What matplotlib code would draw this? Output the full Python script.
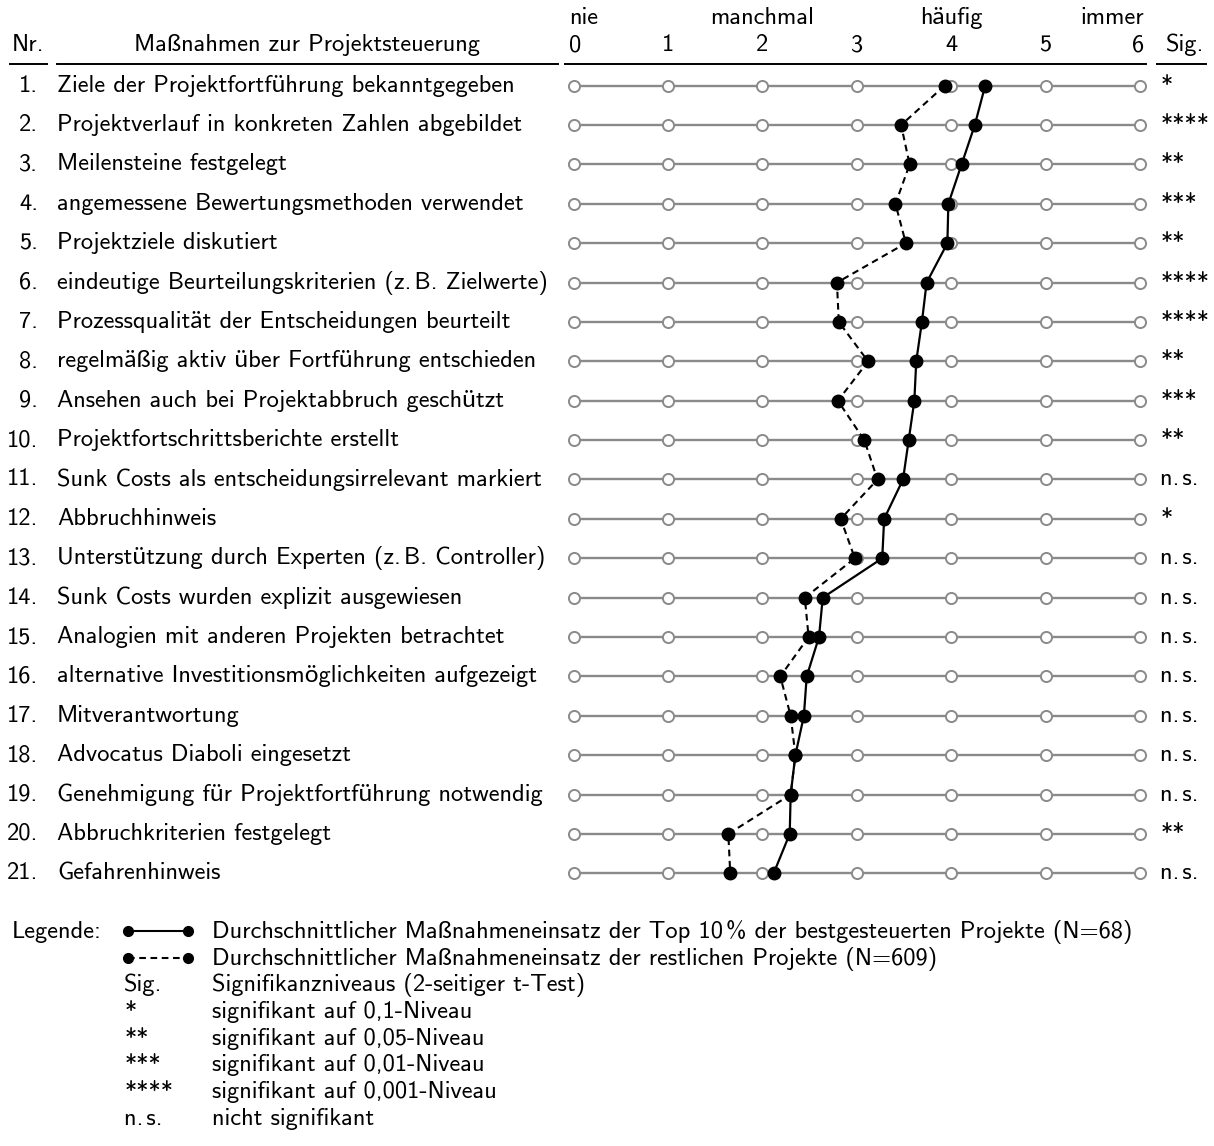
import numpy as np
import matplotlib
matplotlib.use("Agg")
from matplotlib import pyplot as plt
from matplotlib import transforms
from matplotlib.lines import Line2D

plt.rcParams['font.family'] = ['cmss10', 'Lato', 'DejaVu Sans']
plt.rcParams['axes.unicode_minus'] = False

measures = [
    "Ziele der Projektfortführung bekanntgegeben",
    "Projektverlauf in konkreten Zahlen abgebildet",
    "Meilensteine festgelegt",
    "angemessene Bewertungsmethoden verwendet",
    "Projektziele diskutiert",
    "eindeutige Beurteilungskriterien (z.\u2009B. Zielwerte)",
    "Prozessqualität der Entscheidungen beurteilt",
    "regelmäßig aktiv über Fortführung entschieden",
    "Ansehen auch bei Projektabbruch geschützt",
    "Projektfortschrittsberichte erstellt",
    "Sunk Costs als entscheidungsirrelevant markiert",
    "Abbruchhinweis",
    "Unterstützung durch Experten (z.\u2009B. Controller)",
    "Sunk Costs wurden explizit ausgewiesen",
    "Analogien mit anderen Projekten betrachtet",
    "alternative Investitionsmöglichkeiten aufgezeigt",
    "Mitverantwortung",
    "Advocatus Diaboli eingesetzt",
    "Genehmigung für Projektfortführung notwendig",
    "Abbruchkriterien festgelegt",
    "Gefahrenhinweis",
]
top10 = [4.36, 4.25, 4.11, 3.97, 3.96, 3.74, 3.69, 3.63, 3.61, 3.55, 3.49,
         3.29, 3.27, 2.64, 2.60, 2.47, 2.44, 2.35, 2.30, 2.29, 2.12]
rest = [3.93, 3.47, 3.56, 3.41, 3.52, 2.79, 2.81, 3.12, 2.80, 3.08, 3.22,
        2.83, 2.98, 2.45, 2.49, 2.19, 2.30, 2.35, 2.30, 1.64, 1.66]
sig = ["*", "****", "**", "***", "**", "****", "****", "**", "***", "**", "n.\u2009s.",
       "*", "n.\u2009s.", "n.\u2009s.", "n.\u2009s.", "n.\u2009s.", "n.\u2009s.", "n.\u2009s.",
       "n.\u2009s.", "**", "n.\u2009s."]
scale_ticks = [0, 1, 2, 3, 4, 5, 6]
scale_words = {0: "nie", 2: "manchmal", 4: "häufig", 6: "immer"}

legend_rows = [
    ("solid", "Durchschnittlicher Maßnahmeneinsatz der Top 10\u2009% der bestgesteuerten Projekte (N=68)"),
    ("dashed", "Durchschnittlicher Maßnahmeneinsatz der restlichen Projekte (N=609)"),
    ("Sig.", "Signifikanzniveaus (2-seitiger t-Test)"),
    ("*", "signifikant auf 0,1-Niveau"),
    ("**", "signifikant auf 0,05-Niveau"),
    ("***", "signifikant auf 0,01-Niveau"),
    ("****", "signifikant auf 0,001-Niveau"),
    ("n.\u2009s.", "nicht signifikant"),
]

W, H = 1214, 1146
FS = 17.6
GRAY = '#8a8a8a'

fig = plt.figure(figsize=(W / 100, H / 100), dpi=100)


def fx(px):
    return px / W


def fy(py):
    return 1 - py / H


# main dot plot area: value 0 -> px 573.5, value 6 -> px 1140
row1_y, row21_y = 85.7, 873.3
step = (row21_y - row1_y) / 20
top_px = row1_y - step / 2
bot_px = row21_y + step / 2
ax = fig.add_axes([fx(573.5), fy(bot_px), (1140 - 573.5) / W, (bot_px - top_px) / H])
ax.set_xlim(0, 6)
ax.set_ylim(len(measures) + 0.5, 0.5)
ax.axis('off')

rows = np.arange(1, len(measures) + 1)
for r in rows:
    ax.plot([scale_ticks[0], scale_ticks[-1]], [r, r], color=GRAY, lw=1.7, zorder=1,
            solid_capstyle='butt')
    ax.plot(scale_ticks, [r] * len(scale_ticks), 'o', ms=8, mfc='white', mec=GRAY,
            mew=1.4, zorder=2, clip_on=False)

ax.plot(rest, rows, 'o', color='black', ls=(0, (3.2, 2.2)), lw=1.5, ms=9, zorder=3,
        clip_on=False)
ax.plot(top10, rows, 'o-', color='black', lw=1.6, ms=9, zorder=4, clip_on=False)

# row labels, significance column
tr = transforms.blended_transform_factory(fig.transFigure, ax.transData)
for r, name, s in zip(rows, measures, sig):
    ax.text(fx(38), r, f"{r}.", transform=tr, ha='right', va='center', fontsize=FS)
    ax.text(fx(57), r, name, transform=tr, ha='left', va='center', fontsize=FS)
    ax.text(fx(1160), r, s, transform=tr, ha='left', va='center', fontsize=FS)

# header
trx = transforms.blended_transform_factory(ax.transData, fig.transFigure)
for v in scale_ticks:
    ha = 'left' if v == scale_ticks[0] else ('right' if v == scale_ticks[-1] else 'center')
    xoff = -0.05 if v == scale_ticks[0] else (0.04 if v == scale_ticks[-1] else 0)
    ax.text(v + xoff, fy(45), str(v), transform=trx, ha=ha, va='center', fontsize=FS)
for v, word in scale_words.items():
    ha = 'left' if v == scale_ticks[0] else ('right' if v == scale_ticks[-1] else 'center')
    xoff = -0.05 if v == scale_ticks[0] else (0.04 if v == scale_ticks[-1] else 0)
    ax.text(v + xoff, fy(18), word, transform=trx, ha=ha, va='center', fontsize=FS)

fig.text(fx(28), fy(45), "Nr.", ha='center', va='center', fontsize=FS)
fig.text(fx(307), fy(45), "Maßnahmen zur Projektsteuerung", ha='center', va='center',
         fontsize=FS)
fig.text(fx(1185), fy(45), "Sig.", ha='center', va='center', fontsize=FS)

for x0, x1 in [(10, 47), (57, 558), (565, 1146), (1157, 1206)]:
    fig.add_artist(Line2D([fx(x0), fx(x1)], [fy(64), fy(64)], color='black', lw=1.4))

# legend (baselines)
leg_y0, leg_step = 938, 26.7
fig.text(fx(12), fy(leg_y0), "Legende:", ha='left', va='baseline', fontsize=FS)
for k, (sym, desc) in enumerate(legend_rows):
    y = leg_y0 + k * leg_step
    if sym in ("solid", "dashed"):
        ls = '-' if sym == "solid" else (0, (3.2, 2.2))
        ym = y - 7
        fig.add_artist(Line2D([fx(128), fx(188)], [fy(ym), fy(ym)], color='black', lw=1.5,
                              ls=ls))
        fig.add_artist(Line2D([fx(128), fx(188)], [fy(ym), fy(ym)], color='black', lw=0,
                              marker='o', ms=7))
    else:
        fig.text(fx(124), fy(y), sym, ha='left', va='baseline', fontsize=FS)
    fig.text(fx(212), fy(y), desc, ha='left', va='baseline', fontsize=FS)

fig.savefig("out.png", dpi=100)
